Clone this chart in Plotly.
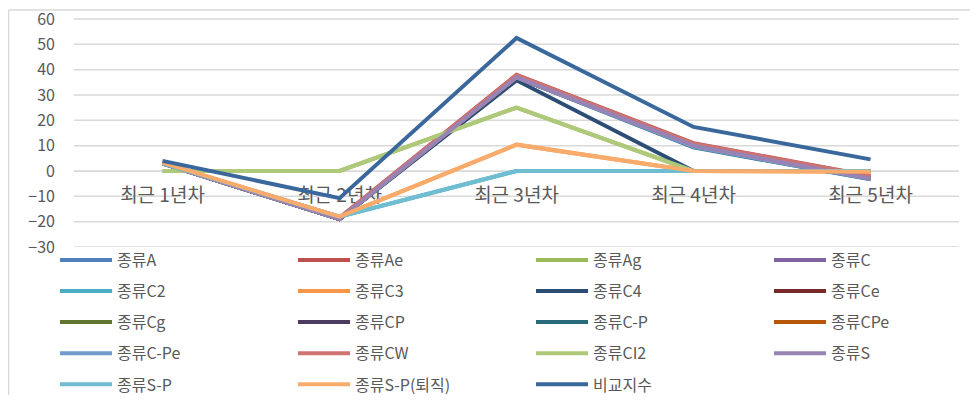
import plotly.graph_objects as go

categories = ["최근 1년차", "최근 2년차", "최근 3년차", "최근 4년차", "최근 5년차"]

series_names = ["종류A", "종류Ae", "종류Ag", "종류C", "종류C2", "종류C3", "종류C4", "종류Ce",
                "종류Cg", "종류CP", "종류C-P", "종류CPe", "종류C-Pe", "종류CW", "종류CI2", "종류S",
                "종류S-P", "종류S-P(퇴직)", "비교지수"]

series_colors = ["#4F81BD", "#C0504D", "#9BBB59", "#8064A2", "#4BACC6", "#F79646", "#2C4D75", "#772C2A",
                 "#5F7530", "#4D3B62", "#276A7C", "#B65708", "#729ACA", "#CD7371", "#AFC97A", "#9983B5",
                 "#6FBDD1", "#F9AB6B", "#3A679C"]

v_A = [3.0, -19.0, 37.0, 10.0, -3.0]
v_Ae = [3.0, -18.5, 38.0, 11.0, -2.0]
v_Ag = [0.0, 0.0, 25.0, 0.0, 0.0]
v_C = [3.0, -19.0, 37.0, 10.0, -3.0]
v_C2 = [3.0, -18.0, 0.0, 0.0, 0.0]
v_C3 = [3.0, -18.0, 10.4, 0.0, -0.3]
v_C4 = [3.0, -19.0, 35.8, 0.0, 0.0]
v_Ce = [3.0, -19.0, 37.0, 10.0, -3.0]
v_Cg = [3.0, -19.0, 37.0, 10.0, -3.0]
v_CP = [3.0, -19.0, 37.0, 10.0, -3.0]
v_CmP = [3.0, -19.0, 37.0, 9.3, -3.3]
v_CPe = [3.0, -19.0, 37.0, 10.0, -3.0]
v_CmPe = [3.0, -19.0, 37.0, 9.5, -3.2]
v_CW = [3.2, -18.5, 37.8, 10.8, -2.0]
v_CI2 = [0.0, 0.0, 25.0, 0.0, 0.0]
v_S = [3.0, -19.0, 37.0, 10.0, -3.0]
v_SP = [3.0, -18.0, 0.0, 0.0, 0.0]
v_SPr = [3.3, -18.0, 10.4, 0.0, -0.3]
v_index = [4.0, -10.7, 52.5, 17.4, 4.6]

series_values = [v_A, v_Ae, v_Ag, v_C, v_C2, v_C3, v_C4, v_Ce, v_Cg, v_CP, v_CmP, v_CPe,
                 v_CmPe, v_CW, v_CI2, v_S, v_SP, v_SPr, v_index]

y_ticks = [-30, -20, -10, 0, 10, 20, 30, 40, 50, 60]

FONT = "Noto Sans CJK KR, Noto Sans, sans-serif"
GREY = "#595959"
GRID = "#D9D9D9"

legend_ids = ["legend", "legend2", "legend3", "legend4"]

fig = go.Figure()
for i, (name, color, vals) in enumerate(zip(series_names, series_colors, series_values)):
    fig.add_trace(go.Scatter(
        x=categories, y=vals, name=name, mode="lines",
        line=dict(color=color, width=4),
        legend=legend_ids[i % 4], legendgroup=name,
    ))

# the page body has an 8px margin: work in page px and subtract it
OFF = 8
W, H = 970, 387
Y_TOP_PX, Y_BOT_PX = 19, 247          # page px of 60 and -30
unit = (Y_BOT_PX - Y_TOP_PX) / 90.0
EXTRA = 5                              # keep top gridline well inside the plot
y_hi = 60 + EXTRA / unit
PL, PR = 74 - OFF, 959 - OFF
PT, PB = Y_TOP_PX - EXTRA - OFF, Y_BOT_PX - OFF
pw, ph = PR - PL, PB - PT
zero_pos = (30 * unit) / ph

def legend_cfg(page_x):
    return dict(
        orientation="v", x=(page_x - OFF - PL) / pw, xanchor="left",
        y=-(243 - OFF - PB) / ph, yanchor="top",
        font=dict(family=FONT, size=16, color=GREY),
        tracegroupgap=7.3, itemwidth=52,
        bgcolor="rgba(0,0,0,0)",
    )

# horizontal gridlines drawn from the tick list
grid_shapes = [dict(
    type="line", xref="paper", yref="y", x0=0, x1=1, y0=t, y1=t,
    line=dict(color=GRID, width=1.5), layer="below",
) for t in y_ticks]

# chart-area frame: top and left edges only (the rest lies outside the view)
frame_top_y = (PB - (10 - OFF)) / ph
frame_left_x = (0.5 - PL) / pw
frame = [
    dict(type="line", xref="paper", yref="paper", x0=frame_left_x, x1=(W - PL) / pw,
         y0=frame_top_y, y1=frame_top_y, line=dict(color=GRID, width=1.5)),
    dict(type="line", xref="paper", yref="paper", x0=frame_left_x, x1=frame_left_x,
         y0=-(H - PB) / ph, y1=frame_top_y, line=dict(color=GRID, width=1.5)),
]

fig.update_layout(
    width=W, height=H,
    margin=dict(l=PL, r=W - PR, t=PT, b=H - PB, autoexpand=False),
    paper_bgcolor="white", plot_bgcolor="rgba(0,0,0,0)",
    font=dict(family=FONT, color=GREY, size=16),
    showlegend=True,
    legend=legend_cfg(55),
    legend2=legend_cfg(293),
    legend3=legend_cfg(531),
    legend4=legend_cfg(769),
    xaxis=dict(
        type="category", range=[-0.5, 4.5],
        anchor="free", position=zero_pos,
        showline=True, linecolor=GRID, linewidth=1,
        ticks="", showgrid=False, zeroline=False,
        tickfont=dict(family=FONT, size=19, color=GREY),
        ticklabelstandoff=7,
        layer="below traces",
    ),
    yaxis=dict(
        range=[-30, y_hi], tickmode="array", tickvals=y_ticks,
        showgrid=False,
        zeroline=False, showline=False, ticks="",
        tickfont=dict(family=FONT, size=16, color=GREY),
        ticklabelstandoff=18, ticklabeloverflow="allow",
        layer="below traces",
    ),
    shapes=frame + grid_shapes,
)

fig.write_html("out.html")
